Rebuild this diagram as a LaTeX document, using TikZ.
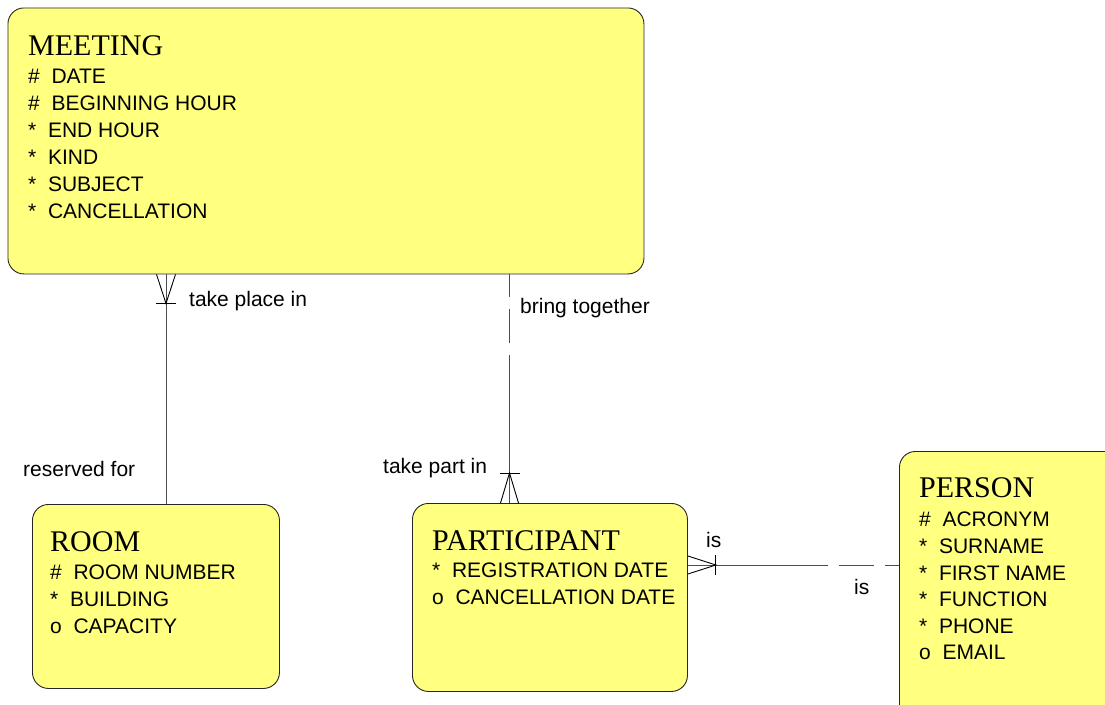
\documentclass[tikz,border=0pt]{standalone}
\usepackage{fontspec}
\usetikzlibrary{calc}
\newfontfamily\entsans{Liberation Sans}
\newfontfamily\entserif{Liberation Serif}
\definecolor{entfill}{HTML}{FFFF80}
\tikzset{
  entity/.style={draw=black!85, fill=entfill, line width=0.9pt, rounded corners=16pt, inner sep=0pt, anchor=north west},
  ttl/.style={anchor=base west, inner sep=0pt, font=\entserif\fontsize{30}{30}\selectfont},
  att/.style={anchor=base west, inner sep=0pt, font=\entsans\fontsize{21}{21}\selectfont},
  lbl/.style={anchor=base west, inner sep=0pt, font=\entsans\fontsize{21}{21}\selectfont},
  rel/.style={draw=black!70, line width=0.9pt},
  crow/.style={draw=black, line width=0.9pt},
}
\begin{document}
\begin{tikzpicture}[x=1pt,y=-1pt]
\useasboundingbox (0,0) rectangle (1105,704);
\clip (0,0) rectangle (1105,704);

% entities
\node[entity, minimum width=636pt, minimum height=266pt] (meeting) at (7.5,7.5) {};
\node[entity, minimum width=247pt, minimum height=184pt] (room) at (32,504) {};
\node[entity, minimum width=275pt, minimum height=188pt] (participant) at (412,503) {};
\node[entity, minimum width=260pt, minimum height=300pt] (person) at (899,451) {};

% MEETING text
\node[ttl] (mt) at (28,55) {MEETING};
\node[att] (m1) at (28,83) {\#\ \ DATE};
\node[att] (m2) at (28,110) {\#\ \ BEGINNING HOUR};
\node[att] (m3) at (28,137) {*\ \ END HOUR};
\node[att] (m4) at (28,164) {*\ \ KIND};
\node[att] (m5) at (28,191) {*\ \ SUBJECT};
\node[att] (m6) at (28,218) {*\ \ CANCELLATION};

% ROOM text
\node[ttl] (rt) at (50,551) {ROOM};
\node[att] (r1) at (50,579) {\#\ \ ROOM NUMBER};
\node[att] (r2) at (50,606) {*\ \ BUILDING};
\node[att] (r3) at (50,633) {o\ \ CAPACITY};

% PARTICIPANT text
\node[ttl] (pt) at (432,550) {PARTICIPANT};
\node[att] (p1) at (432,577) {*\ \ REGISTRATION DATE};
\node[att] (p2) at (432,604) {o\ \ CANCELLATION DATE};

% PERSON text
\node[ttl] (st) at (919,497) {PERSON};
\node[att] (s1) at (919,526) {\#\ \ ACRONYM};
\node[att] (s2) at (919,553) {*\ \ SURNAME};
\node[att] (s3) at (919,580) {*\ \ FIRST NAME};
\node[att] (s4) at (919,606) {*\ \ FUNCTION};
\node[att] (s5) at (919,633) {*\ \ PHONE};
\node[att] (s6) at (919,659) {o\ \ EMAIL};

% connector guide coordinates
\coordinate (xa) at (166,0);
\coordinate (xb) at (509.5,0);
\coordinate (yc) at (0,565);

% MEETING -- ROOM
\draw[rel] (meeting.south -| xa) -- (room.north -| xa);
\draw[crow] ($(meeting.south -| xa)+(-9.5,0)$) -- ($(meeting.south -| xa)+(0,29)$) -- ($(meeting.south -| xa)+(9.5,0)$);
\draw[crow] ($(meeting.south -| xa)+(-10,29)$) -- ($(meeting.south -| xa)+(10,29)$);

% MEETING -- PARTICIPANT
\path (meeting.south -| xb) -- coordinate[midway] (mp) (participant.north -| xb);
\draw[rel, dash pattern=on 34pt off 12pt] (mp) -- (meeting.south -| xb);
\draw[rel] (mp) -- (participant.north -| xb);
\draw[crow] ($(participant.north -| xb)+(-9,0)$) -- ($(participant.north -| xb)+(0,-30)$) -- ($(participant.north -| xb)+(9,0)$);
\draw[crow] ($(participant.north -| xb)+(-10,-30)$) -- ($(participant.north -| xb)+(10,-30)$);

% PARTICIPANT -- PERSON
\path (participant.east |- yc) -- coordinate[midway] (pp) (person.west |- yc);
\draw[rel] (participant.east |- yc) -- (pp);
\draw[rel, dash pattern=on 35pt off 11pt] (pp) -- (person.west |- yc);
\draw[crow] ($(participant.east |- yc)+(0,-9)$) -- ($(participant.east |- yc)+(28,0)$) -- ($(participant.east |- yc)+(0,9)$);
\draw[crow] ($(participant.east |- yc)+(28,-10)$) -- ($(participant.east |- yc)+(28,10)$);

% labels
\node[lbl] (l1) at (189,306) {take place in};
\node[lbl] (l2) at (23,476) {reserved for};
\node[lbl] (l3) at (520,313) {bring together};
\node[lbl] (l4) at (383,473) {take part in};
\node[lbl] (l5) at (706,547) {is};
\node[lbl] (l6) at (854,594) {is};
\end{tikzpicture}
\end{document}
